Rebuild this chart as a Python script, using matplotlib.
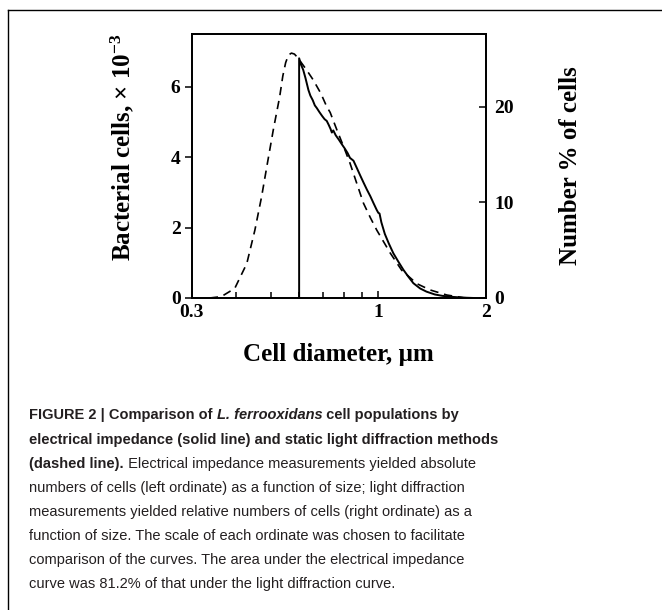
import matplotlib
matplotlib.use('Agg')
import matplotlib.pyplot as plt
from matplotlib import font_manager
from matplotlib.lines import Line2D
from matplotlib.ticker import FixedLocator, NullFormatter

# Electrical impedance (solid, left axis, cells x 10^-3)
imp_diam = [0.600, 0.600, 0.608, 0.616, 0.625, 0.637, 0.645, 0.655, 0.664, 0.672,
            0.684, 0.696, 0.707, 0.717, 0.726, 0.735, 0.741, 0.748, 0.760, 0.775,
            0.790, 0.805, 0.820, 0.833, 0.852, 0.870, 0.889, 0.909, 0.929, 0.950,
            0.969, 0.990, 1.000, 1.008, 1.020, 1.043, 1.070, 1.102, 1.140,
            1.176, 1.215, 1.254, 1.310, 1.365, 1.440, 1.513, 1.620, 1.730, 1.850]
imp_cells = [0.00, 6.81, 6.62, 6.48, 6.25, 5.91, 5.75, 5.62, 5.47, 5.40,
             5.28, 5.17, 5.08, 5.03, 4.92, 4.80, 4.70, 4.76, 4.62, 4.50,
             4.37, 4.25, 4.12, 3.98, 3.90, 3.70, 3.49, 3.28, 3.08, 2.89,
             2.70, 2.50, 2.42, 2.40, 2.15, 1.82, 1.55, 1.27, 1.02,
             0.80, 0.60, 0.42, 0.27, 0.18, 0.10, 0.06, 0.03, 0.01, 0.00]

# Static light diffraction (dashed, right axis, number %)
lds_diam = [0.337, 0.363, 0.396, 0.428, 0.451, 0.471, 0.489, 0.508, 0.529, 0.540,
            0.550, 0.560, 0.571, 0.582, 0.592, 0.603, 0.628, 0.657, 0.690, 0.717,
            0.733, 0.765, 0.800, 0.833, 0.870, 0.909, 0.950, 0.990, 1.080, 1.163,
            1.282, 1.397, 1.556, 1.734, 1.800]
lds_pct = [0.0, 0.14, 1.0, 3.6, 7.1, 10.6, 14.1, 17.6, 21.0, 23.2,
           24.6, 25.4, 25.6, 25.5, 25.2, 24.8, 23.9, 22.8, 21.4, 20.0,
           19.4, 17.6, 15.8, 14.1, 12.0, 9.9, 8.4, 7.1, 4.7, 2.9,
           1.5, 0.84, 0.31, 0.03, 0.0]

x_major = [0.3, 1, 2]
x_major_labels = ['0.3', '1', '2']
x_minor = [0.4, 0.5, 0.6, 0.7, 0.8, 0.9]
left_ticks = [0, 2, 4, 6]
right_ticks = [0, 10, 20]

installed = {f.name for f in font_manager.fontManager.ttflist}
cap_font = 'Liberation Sans Narrow' if 'Liberation Sans Narrow' in installed else 'Liberation Sans'
serif = 'Liberation Serif'

plt.rcParams['font.family'] = serif
plt.rcParams['font.weight'] = 'bold'
plt.rcParams['mathtext.fontset'] = 'custom'
plt.rcParams['mathtext.rm'] = 'Liberation Serif:bold'
plt.rcParams['mathtext.bf'] = 'Liberation Serif:bold'
plt.rcParams['mathtext.it'] = 'Liberation Serif:bold'

fig = plt.figure(figsize=(6.62, 6.10), dpi=100)
ax = fig.add_axes([0.2896, 0.5115, 0.4441, 0.4328])
ax2 = ax.twinx()

ax.plot(imp_diam, imp_cells, color='black', lw=1.4)
ax2.plot(lds_diam, lds_pct, color='black', lw=1.2, dashes=(5, 3.5))

ax.set_xscale('log')
ax.set_xlim(0.3, 2)
ax.set_ylim(0, 7.5)
ax2.set_ylim(0, 27.6)

ax.xaxis.set_major_locator(FixedLocator(x_major))
ax.set_xticklabels(x_major_labels)
ax.xaxis.set_minor_locator(FixedLocator(x_minor))
ax.xaxis.set_minor_formatter(NullFormatter())
ax.set_yticks(left_ticks)
ax2.set_yticks(right_ticks)

ax.tick_params(axis='x', which='major', direction='in', length=5, width=1.1, pad=4, labelsize=14)
ax.tick_params(axis='x', which='minor', direction='in', length=4, width=1.1)
ax.tick_params(axis='y', direction='out', length=5, width=1.1, pad=3, labelsize=14)
ax2.tick_params(axis='y', direction='in', length=5, width=1.1, pad=6, labelsize=14)

for a in (ax, ax2):
    for s in a.spines.values():
        s.set_linewidth(1.3)

ax.set_xlabel('Cell diameter, \u00b5m', weight='bold', fontsize=18, labelpad=16)
ax.set_ylabel('Bacterial cells, \u00d7 10$^{\\mathrm{-3}}$', weight='bold', fontsize=18)
ax.yaxis.set_label_coords(-0.19, 0.57)
ax2.set_ylabel('Number % of cells', weight='bold', fontsize=18, rotation=90)
ax2.yaxis.set_label_coords(1.25, 0.5)

# frame lines (top and left only)
fig.add_artist(Line2D([8 / 662, 1], [1 - 10 / 610, 1 - 10 / 610], color='black', lw=1.0))
fig.add_artist(Line2D([8 / 662, 8 / 662], [0, 1 - 10 / 610], color='black', lw=1.0))

# caption
cap_size = 10.5
cap_col = '#231f20'
x0 = 29 / 662
line_y = [415, 440, 464, 488, 512, 536, 560, 584]

t1 = fig.text(x0, 1 - line_y[0] / 610, 'FIGURE 2 | Comparison of ', family=cap_font,
              weight='bold', fontsize=cap_size, va='center', ha='left', color=cap_col)
t1b = ax.annotate('L. ferrooxidans', xy=(1, 0), xycoords=t1, va='bottom', ha='left',
                  family=cap_font, weight='bold', style='italic', fontsize=cap_size,
                  color=cap_col, annotation_clip=False)
ax.annotate(' cell populations by', xy=(1, 0), xycoords=t1b, va='bottom', ha='left',
            family=cap_font, weight='bold', fontsize=cap_size, color=cap_col,
            annotation_clip=False)

fig.text(x0, 1 - line_y[1] / 610,
         'electrical impedance (solid line) and static light diffraction methods',
         family=cap_font, weight='bold', fontsize=cap_size, va='center', ha='left', color=cap_col)

t3 = fig.text(x0, 1 - line_y[2] / 610, '(dashed line).', family=cap_font, weight='bold',
              fontsize=cap_size, va='center', ha='left', color=cap_col)
ax.annotate(' Electrical impedance measurements yielded absolute', xy=(1, 0), xycoords=t3,
            va='bottom', ha='left', family=cap_font, weight='normal', fontsize=cap_size,
            color=cap_col, annotation_clip=False)

rest = ['numbers of cells (left ordinate) as a function of size; light diffraction',
        'measurements yielded relative numbers of cells (right ordinate) as a',
        'function of size. The scale of each ordinate was chosen to facilitate',
        'comparison of the curves. The area under the electrical impedance',
        'curve was 81.2% of that under the light diffraction curve.']
for yy, s in zip(line_y[3:], rest):
    fig.text(x0, 1 - yy / 610, s, family=cap_font, weight='normal', fontsize=cap_size,
             va='center', ha='left', color=cap_col)

plt.savefig('out.png', dpi=100)
